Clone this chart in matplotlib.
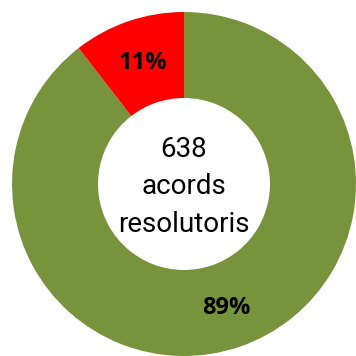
import matplotlib
matplotlib.use("Agg")
import matplotlib.pyplot as plt
import numpy as np

# values (total 638 agreements)
labels = ["resolutoris", "altres"]
values = [571, 67]
pct_labels = ["89%", "11%"]
colors = ["#77933C", "#FF0000"]
centre_text = "638\nacords\nresolutoris"

fig = plt.figure(figsize=(3.56, 3.56), dpi=100)
ax = fig.add_axes([0, 0, 1, 1])
wedges, _ = ax.pie(values, colors=colors, startangle=90, counterclock=False,
                   radius=1.0, wedgeprops=dict(width=0.5, linewidth=0))

# percentage labels in the middle of the ring
for w, txt in zip(wedges, pct_labels):
    ang = np.deg2rad((w.theta1 + w.theta2) / 2)
    r = 0.76 if txt == "89%" else 0.745
    ax.text(r * np.cos(ang), r * np.sin(ang), txt, ha="center", va="center",
            fontsize=17, fontweight="bold", family=["Open Sans", "DejaVu Sans"])

ax.text(0, -0.015, centre_text, ha="center", va="center", fontsize=20,
        linespacing=1.5, family=["Roboto", "DejaVu Sans"])

ax.set_xlim(-184 / 172, 1.0)
ax.set_ylim(-1.0, 184 / 172)
ax.set_aspect("equal")
ax.axis("off")
fig.savefig("out.png", dpi=100)
